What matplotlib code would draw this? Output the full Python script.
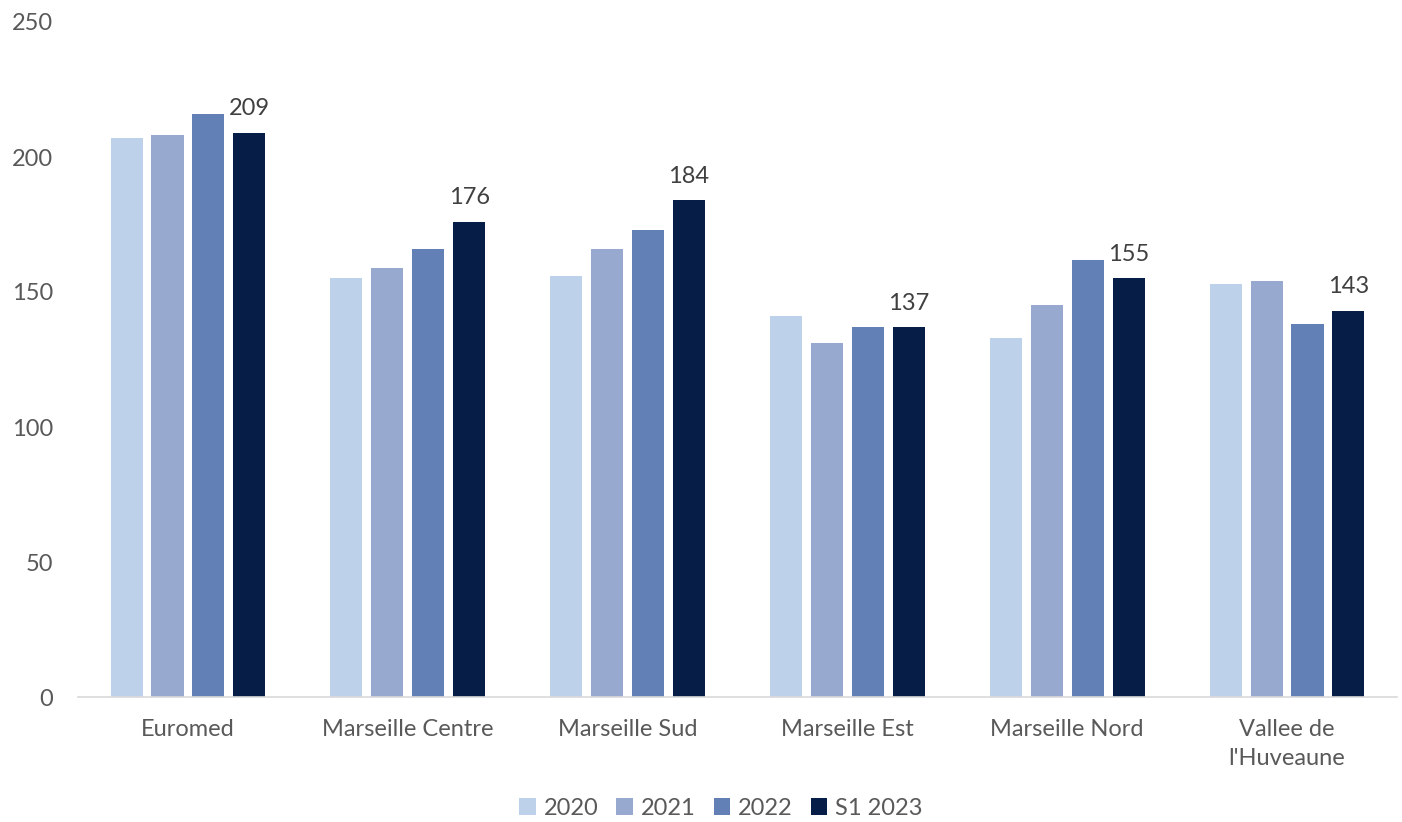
import matplotlib
matplotlib.use("Agg")
import matplotlib.pyplot as plt
import numpy as np

categories = ["Euromed", "Marseille Centre", "Marseille Sud", "Marseille Est", "Marseille Nord", "Vallee de\nl'Huveaune"]
series_names = ["2020", "2021", "2022", "S1 2023"]
v2020 = [207, 155, 156, 141, 133, 153]
v2021 = [208, 159, 166, 131, 145, 154]
v2022 = [216, 166, 173, 137, 162, 138]
vS1_2023 = [209, 176, 184, 137, 155, 143]
colors = ["#BDD1EB", "#97A9CF", "#6280B5", "#061D48"]
yticks = [0, 50, 100, 150, 200, 250]

plt.rcParams['font.family'] = ['Lato', 'DejaVu Sans']
text_color = "#595959"

fig = plt.figure(figsize=(14.02, 8.22), dpi=100)
ax = fig.add_axes([78/1402, 1-697/822, (1397-78)/1402, (697-22)/822])

x = np.arange(len(categories))
step = 0.186
width = 0.146
data = [v2020, v2021, v2022, vS1_2023]
for i, (vals, name, c) in enumerate(zip(data, series_names, colors)):
    offs = (i - 1.5) * step
    ax.bar(x + offs, vals, width=width, color=c, label=name)
    if i == 3:
        for xi, v in zip(x + offs, vals):
            ax.text(xi, v + 5, f"{v}", ha="center", va="bottom", fontsize=17, color="#404040")

ax.set_xlim(-0.5, len(categories) - 0.5)
ax.set_ylim(0, 250)
ax.set_yticks(yticks)
ax.set_xticks(x)
ax.set_xticklabels(categories, fontsize=17, color=text_color, linespacing=1.45)
ax.tick_params(axis='y', length=0, labelsize=17, labelcolor=text_color, pad=18)
ax.tick_params(axis='x', length=0, pad=16)
for s in ["top", "right", "left"]:
    ax.spines[s].set_visible(False)
ax.spines["bottom"].set_color("#D9D9D9")
ax.spines["bottom"].set_linewidth(1.2)

leg = fig.legend(loc="center", bbox_to_anchor=(0.5 + 20/1402, 1-808/822), ncol=4, frameon=False,
                 fontsize=17, handlelength=0.7, handleheight=0.7, handletextpad=0.35, columnspacing=0.75)
for t in leg.get_texts():
    t.set_color(text_color)

fig.savefig("out.png", dpi=100)
